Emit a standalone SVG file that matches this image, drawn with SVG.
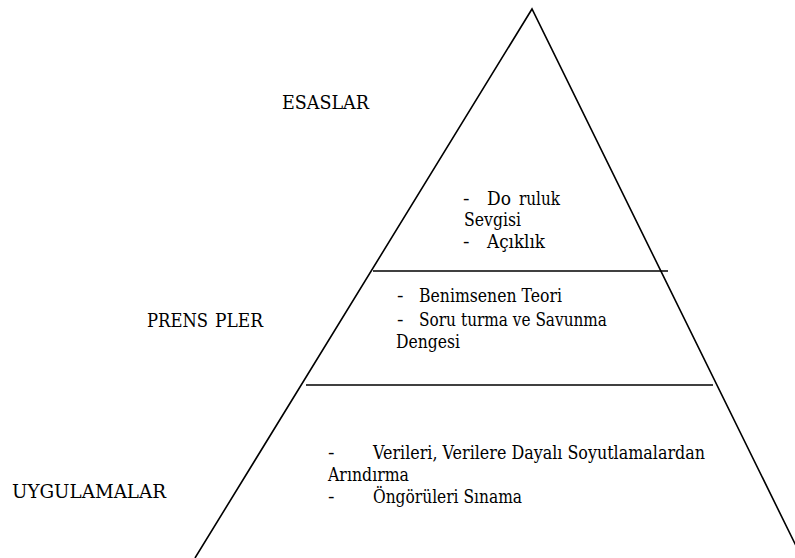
<svg xmlns="http://www.w3.org/2000/svg" width="795" height="558" viewBox="0 0 795 558">
  <style>
    .edge { stroke: #000; stroke-width: 1.6; fill: none; stroke-linecap: butt; }
    .t { font-family: 'DejaVu Serif', 'Liberation Serif', serif; font-size: 17.8px; fill: #000; }
  </style>
  <rect width="795" height="558" fill="#fff"/>

  <!-- pyramid outline and tier dividers -->
  <g id="connectors">
    <polyline class="edge" points="195,558 532,9 802,558"/>
    <line class="edge" x1="373" y1="271" x2="668" y2="271"/>
    <line class="edge" x1="306" y1="385" x2="713" y2="385"/>
  </g>

  <!-- tier labels -->
  <g id="label-esaslar">
    <text class="t" x="282" y="109" textLength="87" lengthAdjust="spacingAndGlyphs">ESASLAR</text>
  </g>
  <g id="label-prensipler">
    <text class="t" x="147" y="327" textLength="61" lengthAdjust="spacingAndGlyphs">PRENS</text>
    <text class="t" x="215" y="327" textLength="48" lengthAdjust="spacingAndGlyphs">PLER</text>
  </g>
  <g id="label-uygulamalar">
    <text class="t" x="12" y="498" textLength="154" lengthAdjust="spacingAndGlyphs">UYGULAMALAR</text>
  </g>

  <!-- top tier contents -->
  <g id="tier-top">
    <text class="t" x="463" y="205" textLength="6.5" lengthAdjust="spacingAndGlyphs">-</text>
    <text class="t" x="487" y="205" textLength="24" lengthAdjust="spacingAndGlyphs">Do</text>
    <text class="t" x="519" y="205" textLength="41" lengthAdjust="spacingAndGlyphs">ruluk</text>
    <text class="t" x="464" y="226" textLength="57" lengthAdjust="spacingAndGlyphs">Sevgisi</text>
    <text class="t" x="463" y="248" textLength="6.5" lengthAdjust="spacingAndGlyphs">-</text>
    <text class="t" x="487" y="248" textLength="58" lengthAdjust="spacingAndGlyphs">Açıklık</text>
  </g>

  <!-- middle tier contents -->
  <g id="tier-middle">
    <text class="t" x="397" y="302" textLength="6.5" lengthAdjust="spacingAndGlyphs">-</text>
    <text class="t" x="419" y="302" textLength="143" lengthAdjust="spacingAndGlyphs">Benimsenen Teori</text>
    <text class="t" x="397" y="326" textLength="6.5" lengthAdjust="spacingAndGlyphs">-</text>
    <text class="t" x="419" y="326" textLength="37" lengthAdjust="spacingAndGlyphs">Soru</text>
    <text class="t" x="461" y="326" textLength="146" lengthAdjust="spacingAndGlyphs">turma ve Savunma</text>
    <text class="t" x="396" y="348" textLength="64" lengthAdjust="spacingAndGlyphs">Dengesi</text>
  </g>

  <!-- bottom tier contents -->
  <g id="tier-bottom">
    <text class="t" x="328" y="459" textLength="6.5" lengthAdjust="spacingAndGlyphs">-</text>
    <text class="t" x="373" y="459" textLength="332" lengthAdjust="spacingAndGlyphs">Verileri, Verilere Dayalı Soyutlamalardan</text>
    <text class="t" x="328" y="481" textLength="81" lengthAdjust="spacingAndGlyphs">Arındırma</text>
    <text class="t" x="328" y="503" textLength="6.5" lengthAdjust="spacingAndGlyphs">-</text>
    <text class="t" x="373" y="503" textLength="149" lengthAdjust="spacingAndGlyphs">Öngörüleri Sınama</text>
  </g>
</svg>
